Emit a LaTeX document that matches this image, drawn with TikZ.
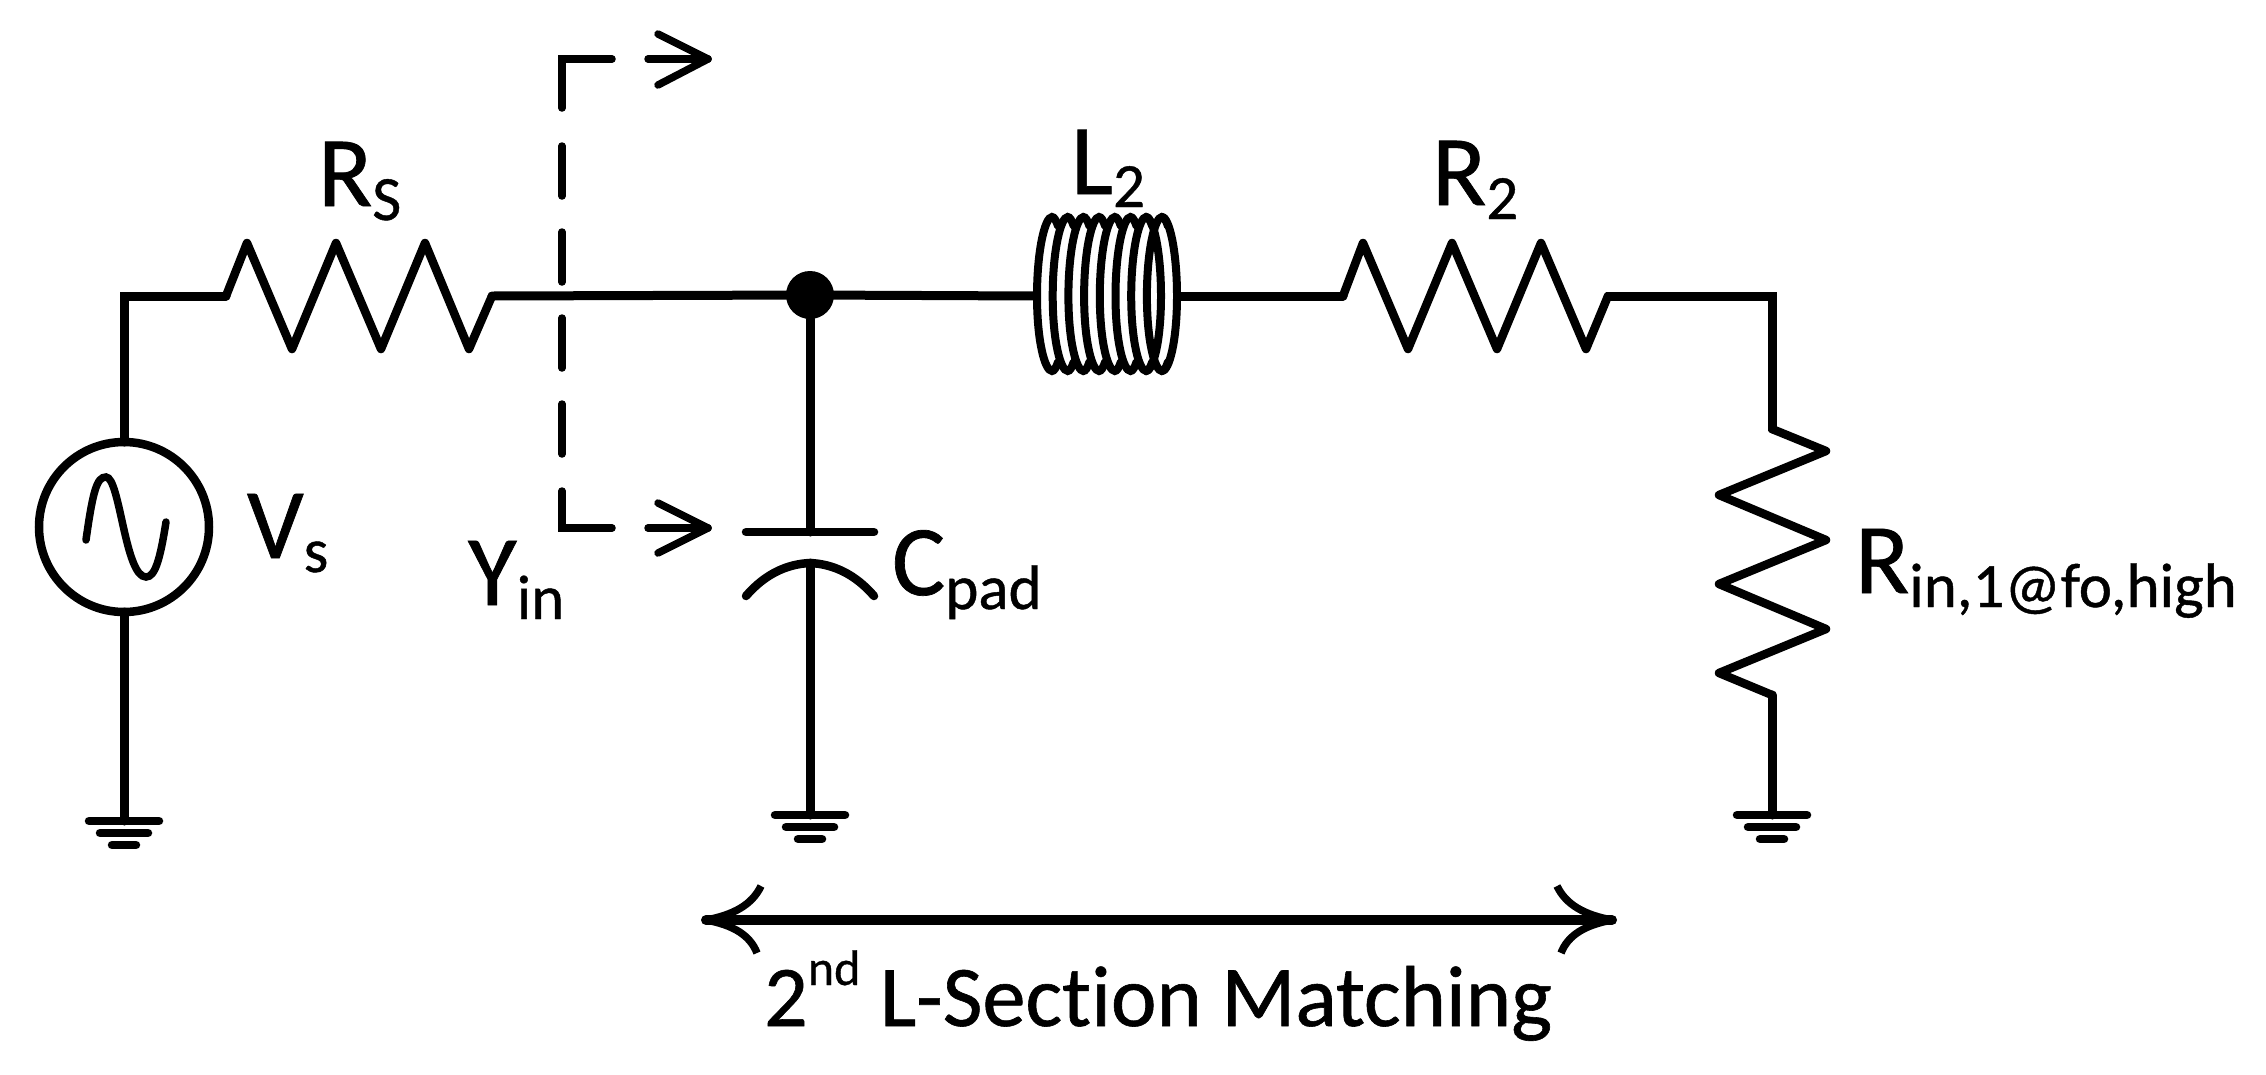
\documentclass[tikz,border=0pt]{standalone}
\usepackage{fontspec}
\setmainfont{Carlito}[Ligatures={NoCommon},RawFeature={embolden=0.7}]
\newcommand{\sublab}[1]{\raisebox{-14pt}{\fontsize{63}{63}\selectfont #1}}
\tikzset{
  wire/.style={line width=9pt,line cap=round,line join=miter},
  zig/.style={line width=8.5pt,line join=round,line cap=round},
  coil/.style={line width=8pt,line cap=round},
  probe/.style={line width=7.5pt,line cap=round,line join=miter},
  lab/.style={anchor=base west,inner sep=0pt,outer sep=0pt,font=\fontsize{100}{100}\selectfont},
  bar/.style={line width=8.5pt,line cap=round},
  gnd/.pic={
    \draw[bar] (-35,0) -- (35,0);
    \draw[bar] (-24,12) -- (24,12);
    \draw[bar] (-12,24) -- (12,24);
  }
}
\begin{document}
\begin{tikzpicture}[x=1pt,y=-1pt]
\useasboundingbox (0,0) rectangle (2266,1074);
% named points
\coordinate (corner) at (124,296);
\coordinate (rsL) at (226,296);
\coordinate (rsR) at (492,296);
\coordinate (lL) at (1036,296);
\coordinate (lR) at (1179,296);
\coordinate (r2L) at (1343,296);
\coordinate (r2R) at (1608,296);
\coordinate (cornerR) at (1772,296);
\coordinate (rinT) at (1772,429);
\coordinate (rinB) at (1772,695);
\coordinate (gndA) at (124,821);
\coordinate (gndB) at (810,815);
\coordinate (gndC) at (1772,815);
\coordinate (capT) at (810,532);
\coordinate (capB) at (810,563);
\node[circle,fill=black,minimum size=48pt,inner sep=0pt,outer sep=0pt] (dot) at (810,295) {};
\node[circle,draw,line width=8.5pt,minimum size=170pt,inner sep=0pt,outer sep=0pt] (vs) at (124,527) {};
% wires
\draw[wire] (vs.north) -- (corner) -- (rsL);
\draw[wire] (vs.south) -- (gndA);
\draw[wire] (rsR) -- (dot);
\draw[wire] (dot) -- (lL);
\draw[wire] (lR) -- (r2L);
\draw[wire] (r2R) -- (cornerR) -- (rinT);
\draw[wire] (rinB) -- (gndC);
\draw[wire] (dot) -- (capT);
\draw[wire] (capB) -- (gndB);
% resistors
\draw[zig] (rsL) -- (247,243) -- (292,349) -- (336,243) -- (381,349) -- (425,243) -- (469,349) -- (rsR);
\draw[zig] (r2L) -- (1363,243) -- (1408,349) -- (1452,243) -- (1497,349) -- (1541,243) -- (1586,349) -- (r2R);
\draw[zig] (rinT) -- (1826,451) -- (1719,495) -- (1826,540) -- (1719,584) -- (1826,629) -- (1719,673) -- (rinB);
% inductor
\foreach \i in {0,...,7}{
  \pgfmathsetmacro{\h}{1052+15.7*\i}
  \draw[coil] (\h+6,226) .. controls (\h+4,220) and (\h+2,217) .. (\h,217)
     .. controls (\h-7,217) and (\h-15,250) .. (\h-15,296)
     .. controls (\h-15,342) and (\h-7,371) .. (\h,371)
     .. controls (\h+2,371) and (\h+4,368) .. (\h+6,362);
}
\foreach \h in {1146.0,1162.0}{
  \draw[coil] (\h,217) .. controls (\h+7,217) and (\h+15,250) .. (\h+15,296)
     .. controls (\h+15,342) and (\h+7,371) .. (\h,371);
}
% source symbol
\draw[line width=7.5pt,line cap=round] (86,540) .. controls (93,490) and (97,477) .. (106,477)
  .. controls (120,477) and (125,577) .. (146,577) .. controls (155,577) and (160,560) .. (166,522);
% capacitor
\coordinate (plateL) at (746,532);
\coordinate (plateR) at (874,532);
\coordinate (arcL) at (746,596);
\coordinate (arcR) at (874,596);
\draw[wire,line width=8.5pt] (plateL) -- (plateR);
\draw[wire,line width=8.5pt] (arcL) .. controls (765,574) and (787,564) .. (capB) .. controls (833,564) and (855,574) .. (arcR);
% grounds
\pic at (gndA) {gnd};
\pic at (gndB) {gnd};
\pic at (gndC) {gnd};
% probe
\coordinate (pTa) at (612,59);
\coordinate (pTc) at (562,59);
\coordinate (pTb) at (562,108);
\coordinate (pMa) at (562,146);
\coordinate (pMb) at (562,454);
\coordinate (pBa) at (562,491);
\coordinate (pBc) at (562,528);
\coordinate (pBb) at (612,528);
\draw[probe] (pTa) -- (pTc) -- (pTb);
\draw[probe,dash pattern=on 50pt off 36pt] (pMa) -- (pMb);
\draw[probe] (pBa) -- (pBc) -- (pBb);
\coordinate (a1s) at (648,59);
\coordinate (a1t) at (708,59);
\coordinate (a2s) at (648,528);
\coordinate (a2t) at (708,528);
\draw[probe,line join=round] (a1s) -- (a1t);
\draw[probe,line join=round] (658,34) -- (a1t) -- (658,85);
\draw[probe,line join=round] (a2s) -- (a2t);
\draw[probe,line join=round] (658,503) -- (a2t) -- (658,553);
% bottom dimension arrow
\coordinate (dimL) at (706,920);
\coordinate (dimR) at (1612,920);
\draw[line width=10pt,line cap=round] (dimL) -- (dimR);
\draw[line width=7.5pt] (dimL) .. controls (733,915) and (752,905) .. (761,886);
\draw[line width=7.5pt] (dimL) .. controls (733,925) and (750,935) .. (757,953);
\draw[line width=7.5pt] (dimR) .. controls (1585,915) and (1566,905) .. (1557,886);
\draw[line width=7.5pt] (dimR) .. controls (1585,925) and (1568,935) .. (1561,953);
% labels
\node[lab] (lbRs) at (318,206) {R\sublab{S}};
\node[lab] (lbVs) at (247,558) {V\sublab{s}};
\node[lab] (lbYin) at (468,605) {Y\sublab{in}};
\node[lab] (lbL) at (1071,194) {L\raisebox{-13pt}{\fontsize{63}{63}\selectfont 2}};
\node[lab] (lbR2) at (1432,205) {R\sublab{2}};
\node[lab] (lbC) at (892,595) {C\sublab{pad}};
\node[lab] (lbRin) at (1855,593) {R\sublab{in,1@fo,high}};
\node[lab,font=\fontsize{86.5}{86.5}\selectfont] (lbM) at (764,1026) {2\raisebox{41pt}{\fontsize{50}{50}\selectfont nd} L-Section Matching};
\end{tikzpicture}
\end{document}
